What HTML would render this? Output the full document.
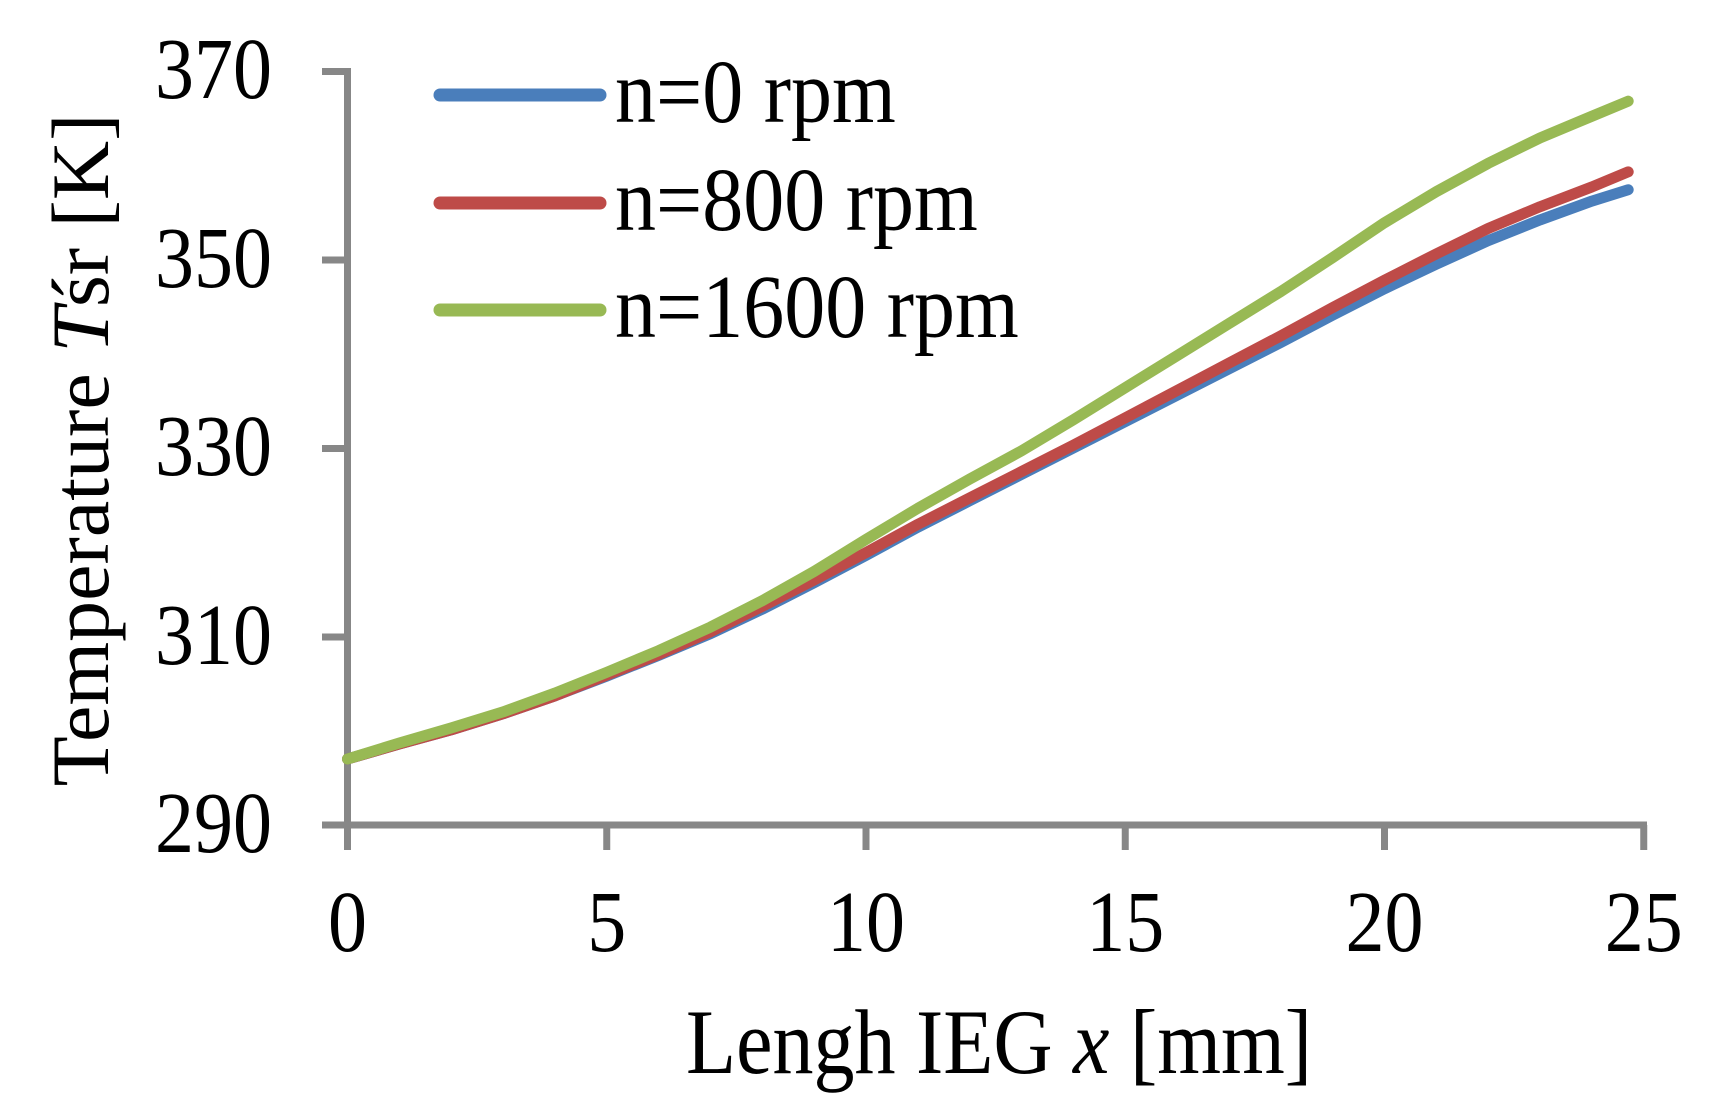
<!DOCTYPE html>
<html><head><meta charset="utf-8"><style>
html,body{margin:0;padding:0;background:#fff;}
svg{display:block;}
text{font-family:"Liberation Serif","Times New Roman",serif;fill:#000;}
</style></head><body>
<svg width="1713" height="1120" viewBox="0 0 1713 1120" xmlns="http://www.w3.org/2000/svg">
<rect width="1713" height="1120" fill="#fff"/>
<g stroke="#878787" stroke-width="7" fill="none">
<line x1="347.5" y1="68" x2="347.5" y2="850"/>
<line x1="322" y1="825" x2="1647" y2="825"/>
<line x1="322" y1="71.5" x2="347.5" y2="71.5"/>
<line x1="322" y1="260" x2="347.5" y2="260"/>
<line x1="322" y1="448.5" x2="347.5" y2="448.5"/>
<line x1="322" y1="637" x2="347.5" y2="637"/>
<line x1="606.75" y1="825" x2="606.75" y2="850"/>
<line x1="866" y1="825" x2="866" y2="850"/>
<line x1="1125.25" y1="825" x2="1125.25" y2="850"/>
<line x1="1384.5" y1="825" x2="1384.5" y2="850"/>
<line x1="1643.75" y1="825" x2="1643.75" y2="850"/>
</g>
<g font-size="78" text-anchor="end">
<g transform="translate(272,98) scale(1,1.12)"><text>370</text></g>
<g transform="translate(272,287) scale(1,1.12)"><text>350</text></g>
<g transform="translate(272,475) scale(1,1.12)"><text>330</text></g>
<g transform="translate(272,664) scale(1,1.12)"><text>310</text></g>
<g transform="translate(272,852) scale(1,1.12)"><text>290</text></g>
</g>
<g font-size="78" text-anchor="middle">
<g transform="translate(347.5,951) scale(1,1.12)"><text>0</text></g>
<g transform="translate(606.75,951) scale(1,1.12)"><text>5</text></g>
<g transform="translate(866,951) scale(1,1.12)"><text>10</text></g>
<g transform="translate(1125.25,951) scale(1,1.12)"><text>15</text></g>
<g transform="translate(1384.5,951) scale(1,1.12)"><text>20</text></g>
<g transform="translate(1643.75,951) scale(1,1.12)"><text>25</text></g>
</g>
<g transform="translate(686,1073) scale(1,1.12)"><text font-size="82">Lengh IEG <tspan font-style="italic">x</tspan> [mm]</text></g>
<g transform="translate(108,450) rotate(-90)"><text font-size="82" text-anchor="middle">Temperature <tspan font-style="italic">T</tspan>śr [K]</text></g>
<g transform="translate(347.5,825) scale(51.85,-9.425) translate(0,-290)" fill="none" stroke-width="11" stroke-linecap="round" stroke-linejoin="round">
<polyline vector-effect="non-scaling-stroke" stroke="#4a7ebb" points="0,297 1,298.6 2,300.1 3,301.8 4,303.7 5,305.8 6,308 7,310.3 8,312.9 9,315.7 10,318.6 11,321.6 12,324.4 13,327.2 14,330 15,332.8 16,335.6 17,338.4 18,341.2 19,344.1 20,346.9 21,349.5 22,352 23,354.2 24,356.2 24.7,357.4"/>
<polyline vector-effect="non-scaling-stroke" stroke="#be4b48" points="0,297 1,298.6 2,300.1 3,301.8 4,303.7 5,305.9 6,308.1 7,310.5 8,313.2 9,316 10,318.9 11,321.9 12,324.7 13,327.5 14,330.3 15,333.2 16,336.1 17,339 18,341.9 19,344.9 20,347.8 21,350.6 22,353.3 23,355.6 24,357.7 24.7,359.3"/>
<polyline vector-effect="non-scaling-stroke" stroke="#98b954" points="0,297 1,298.7 2,300.3 3,302 4,304 5,306.2 6,308.5 7,311 8,313.8 9,316.9 10,320.3 11,323.6 12,326.7 13,329.7 14,333 15,336.4 16,339.8 17,343.2 18,346.6 19,350.2 20,353.9 21,357.2 22,360.2 23,362.9 24,365.2 24.7,366.8"/>
</g>
<g stroke-width="13" stroke-linecap="round">
<line x1="440" y1="95" x2="600" y2="95" stroke="#4a7ebb"/>
<line x1="440" y1="203" x2="600" y2="203" stroke="#be4b48"/>
<line x1="440" y1="310" x2="600" y2="310" stroke="#98b954"/>
</g>
<g font-size="82">
<g transform="translate(615,122) scale(1,1.1)"><text>n=0 rpm</text></g>
<g transform="translate(615,230) scale(1,1.1)"><text>n=800 rpm</text></g>
<g transform="translate(615,337) scale(1,1.1)"><text>n=1600 rpm</text></g>
</g>
</svg>
</body></html>
